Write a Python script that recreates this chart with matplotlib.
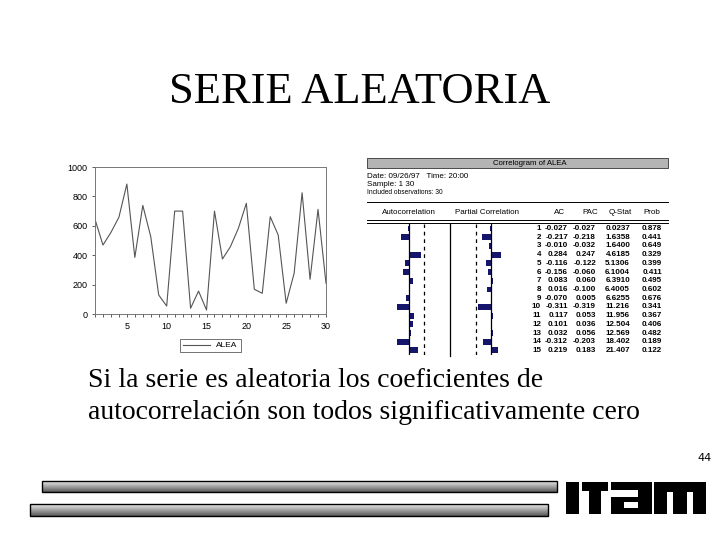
import numpy as np
import matplotlib
matplotlib.use("Agg")
from matplotlib import pyplot as plt
from matplotlib.patches import Rectangle

# serie ALEA (30 observaciones)
obs = list(range(1, 31))
alea = [644, 469, 555, 658, 884, 385, 739, 526, 129, 54,
        700, 700, 39, 156, 27, 700, 374, 458, 583, 753,
        168, 141, 662, 537, 73, 277, 825, 236, 712, 209]

# correlograma
lags = list(range(1, 16))
ac = [-0.027, -0.217, -0.010, 0.284, -0.116, -0.156, 0.083, 0.016,
      -0.070, -0.311, 0.117, 0.101, 0.032, -0.312, 0.219]
pac = [-0.027, -0.218, -0.032, 0.247, -0.122, -0.060, 0.060, -0.100,
       0.005, -0.319, 0.053, 0.036, 0.056, -0.203, 0.183]
qstat = [0.0237, 1.6358, 1.6400, 4.6185, 5.1306, 6.1004, 6.3910, 6.4005,
         6.6255, 11.216, 11.956, 12.504, 12.569, 18.402, 21.407]
prob = [0.878, 0.441, 0.649, 0.329, 0.399, 0.411, 0.495, 0.602,
        0.676, 0.341, 0.367, 0.406, 0.482, 0.189, 0.122]
n_obs = 30

W, H = 720, 540
fig = plt.figure(figsize=(7.2, 5.4), dpi=100)


def box(x0, y0, x1, y1):
    # pixel box (top-left origin) -> figure fraction rect
    return [x0 / W, 1 - y1 / H, (x1 - x0) / W, (y1 - y0) / H]


# background axes in pixel coordinates
bg = fig.add_axes([0, 0, 1, 1])
bg.set_xlim(0, W)
bg.set_ylim(H, 0)
bg.axis("off")

bg.text(360, 103, "SERIE ALEATORIA", ha="center", va="baseline",
        fontsize=32, family="Liberation Serif")
bg.text(88, 387, "Si la serie es aleatoria los coeficientes de",
        ha="left", va="baseline", fontsize=20, family="Liberation Serif")
bg.text(88, 419, "autocorrelación son todos significativamente cero",
        ha="left", va="baseline", fontsize=20, family="Liberation Serif")
bg.text(712, 461, "44", ha="right", va="baseline", fontsize=8,
        family="Liberation Sans Narrow")

# ---- line chart ----
ax = fig.add_axes(box(95, 167, 326, 314))
ax.plot(obs, alea, color="#555555", lw=0.8, label="ALEA")
ax.set_xlim(1, 30)
ax.set_ylim(0, 1000)
ax.set_xticks([5, 10, 15, 20, 25, 30])
ax.set_xticks(obs, minor=True)
ax.set_yticks([0, 200, 400, 600, 800, 1000])
ax.tick_params(axis="both", which="both", direction="out", length=2.5,
               width=0.6, color="#444444", labelsize=6.5, pad=3)
for lab in ax.get_xticklabels() + ax.get_yticklabels():
    lab.set_family("Liberation Sans")
for s in ax.spines.values():
    s.set_color("#777777")
    s.set_linewidth(0.7)
leg = ax.legend(loc="upper center", bbox_to_anchor=(0.5, -0.14),
                frameon=True, fancybox=False, handlelength=3.2,
                borderpad=0.35, prop={"family": "Liberation Sans", "size": 6})
leg.get_frame().set_edgecolor("#333333")
leg.get_frame().set_linewidth(0.6)

# ---- correlogram ----
bg.add_patch(Rectangle((367, 158), 301, 10, facecolor="#b4b4b4",
                       edgecolor="#333333", lw=0.6))
bg.text(530, 163.5, "Correlogram of ALEA", ha="center", va="center",
        fontsize=5.6, family="Liberation Sans")
bg.text(367, 177, "Date: 09/26/97   Time: 20:00", ha="left", va="center",
        fontsize=5.8, family="Liberation Sans")
bg.text(367, 184.5, "Sample: 1 30", ha="left", va="center",
        fontsize=5.8, family="Liberation Sans")
bg.text(367, 192, "Included observations: %d" % n_obs, ha="left",
        va="center", fontsize=4.8, family="Liberation Sans")
bg.plot([367, 668], [202, 202], color="black", lw=0.7)
bg.plot([367, 668], [220, 220], color="black", lw=0.7)
bg.plot([367, 668], [222.5, 222.5], color="black", lw=0.7)

hdr_y = 212
for txt, xc in [("Autocorrelation", 409), ("Partial Correlation", 487),
                ("AC", 560), ("PAC", 590), ("Q-Stat", 620), ("Prob", 652)]:
    bg.text(xc, hdr_y, txt, ha="center", va="center", fontsize=5.8,
            family="Liberation Sans")

row0, step = 228.5, 8.71
for i, k in enumerate(lags):
    y = row0 + i * step
    kw = dict(va="center", ha="right", fontsize=5.8,
              family="Liberation Sans", fontweight="bold")
    bg.text(541, y, "%d" % k, **kw)
    bg.text(568, y, "%.3f" % ac[i], **kw)
    bg.text(596, y, "%.3f" % pac[i], **kw)
    q = "%.4f" % qstat[i] if qstat[i] < 10 else "%.3f" % qstat[i]
    bg.text(630, y, q, **kw)
    bg.text(662, y, "%.3f" % prob[i], **kw)

# column separator
bg.plot([450, 450], [224, 356], color="black", lw=0.9)

se2 = 2 / np.sqrt(n_obs)
px_per_unit = 40.0
bar_col = "#15156b"


def corr_axes(center_px, vals, dashed_side):
    x0, x1 = center_px - 30, center_px + 30
    cax = fig.add_axes(box(x0, row0 - step / 2, x1, row0 + 14.5 * step))
    cax.set_xlim((x0 - center_px) / px_per_unit, (x1 - center_px) / px_per_unit)
    cax.set_ylim(15.5, 0.5)
    cax.axis("off")
    cax.barh(lags, vals, height=0.68, color=bar_col, zorder=2)
    cax.axvline(0, color="black", lw=0.9, zorder=3)
    cax.axvline(dashed_side * se2, color="black", lw=0.9,
                linestyle=(0, (3, 3)), zorder=1)
    return cax


corr_axes(409.3, ac, 1)
corr_axes(490.7, pac, -1)

# ---- footer bars ----
grad = np.linspace(0.92, 0.35, 40).reshape(-1, 1)
for x0, y0, x1, y1 in [(42, 481, 557, 492), (30, 504, 548, 516)]:
    bg.imshow(grad, cmap="gray", vmin=0, vmax=1, aspect="auto",
              extent=(x0, x1, y1, y0), zorder=1)
    bg.add_patch(Rectangle((x0, y0), x1 - x0, y1 - y0, fill=False,
                           edgecolor="black", lw=1.0, zorder=2))
bg.set_xlim(0, W)
bg.set_ylim(H, 0)

# ITAM logo (block letters)
logo = [
    (566, 482, 579, 514),            # I
    (582, 482, 608, 491),            # T top
    (589, 482, 601, 514),            # T stem
    (611, 482, 652, 490),            # a top
    (638, 482, 652, 514),            # a right
    (611, 497, 652, 514),            # a lower block
    (654, 482, 706, 514),            # m
]
for x0, y0, x1, y1 in logo:
    bg.add_patch(Rectangle((x0, y0), x1 - x0, y1 - y0, facecolor="black",
                           edgecolor="none", zorder=3))
holes = [(624, 502, 638, 508), (667, 492, 673, 514), (687, 492, 693, 514)]
for x0, y0, x1, y1 in holes:
    bg.add_patch(Rectangle((x0, y0), x1 - x0, y1 - y0, facecolor="white",
                           edgecolor="none", zorder=4))

fig.savefig("out.png", dpi=100)
